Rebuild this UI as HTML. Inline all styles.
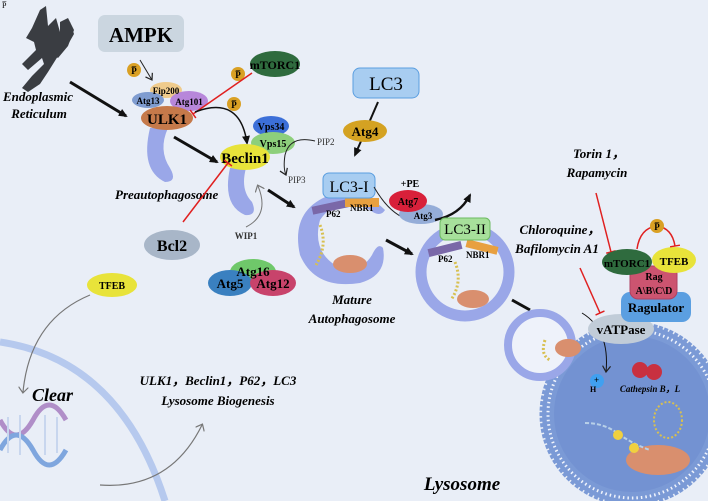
<!DOCTYPE html>
<html><head><meta charset="utf-8"><style>
html,body{margin:0;padding:0;background:#e9eef7;}
svg{display:block;font-family:"Liberation Serif",serif;}
.b{font-weight:bold}
.i{font-style:italic;font-weight:bold}
</style></head><body>
<svg width="708" height="501" viewBox="0 0 708 501" xmlns="http://www.w3.org/2000/svg">
<defs>
<marker id="ak" markerUnits="userSpaceOnUse" markerWidth="10" markerHeight="10" refX="7" refY="5" orient="auto"><path d="M0,1 L9,5 L0,9 z" fill="#111"/></marker>
<marker id="ag" markerUnits="userSpaceOnUse" markerWidth="10" markerHeight="10" refX="5" refY="5" orient="auto"><path d="M0,0 L6,5 L0,10" fill="none" stroke="#777" stroke-width="1.2"/></marker>
<marker id="at" markerUnits="userSpaceOnUse" markerWidth="10" markerHeight="10" refX="8" refY="5" orient="auto"><path d="M2,1 L8,5 L2,9" fill="none" stroke="#222" stroke-width="1.2"/></marker>
<marker id="rb" markerUnits="userSpaceOnUse" markerWidth="4" markerHeight="10" refX="2" refY="5" orient="auto"><path d="M2,0 L2,10" stroke="#e02020" stroke-width="1.5"/></marker>
</defs>
<rect width="708" height="501" fill="#e9eef7"/>
<text x="2" y="8" font-size="8">P̅</text>
<!-- nucleus -->
<path d="M0,342 Q120,360 165,501" fill="none" stroke="#b6c9ee" stroke-width="7"/>
<!-- ER -->
<g fill="#3a3d42">
<path d="M40,10 l6,-4 l2,20 l8,-8 l4,14 l10,-10 l4,12 l-8,14 l-8,8 l-10,16 l-8,12 l-12,8 l-6,-4 l10,-12 l12,-12 l-2,-6 l-14,12 l-6,-6 l14,-14 l-2,-8 l-8,-4 l6,-10 z"/>
<path d="M60,22 l8,-4 l6,12 l-6,16 l-10,12 l-6,-4 l8,-12 z"/>
</g>
<text class="i" x="38" y="101" font-size="13" text-anchor="middle">Endoplasmic</text>
<text class="i" x="39" y="118" font-size="13" text-anchor="middle">Reticulum</text>
<line x1="70" y1="82" x2="126" y2="116" stroke="#111" stroke-width="3" marker-end="url(#ak)"/>
<!-- AMPK -->
<rect x="98" y="15" width="86" height="37" rx="7" fill="#cbd6e0"/>
<text class="b" x="141" y="42" font-size="21" text-anchor="middle">AMPK</text>
<line x1="140" y1="60" x2="152" y2="80" stroke="#222" stroke-width="1" marker-end="url(#at)"/>
<g font-size="9" class="b" text-anchor="middle">
<circle cx="134" cy="70" r="7" fill="#d9a024"/><text x="134" y="74">P̅</text>
<circle cx="238" cy="74" r="7" fill="#d9a024"/><text x="238" y="78">P̅</text>
<circle cx="234" cy="104" r="7" fill="#d9a024"/><text x="234" y="108">P̅</text>
</g>
<!-- preautophagosome crescents -->
<path d="M150,128 Q140,170 165,182 Q178,182 170,168 Q158,150 168,128 z" fill="#9aa7e8"/>
<path d="M230,168 Q222,205 245,215 Q258,216 252,202 Q240,190 246,168 z" fill="#9aa7e8"/>
<ellipse cx="166" cy="90" rx="16" ry="8" fill="#efcb8c"/>
<ellipse cx="148" cy="100" rx="16" ry="8" fill="#7f9cd0"/>
<ellipse cx="189" cy="101" rx="19" ry="10" fill="#b787da"/>
<ellipse cx="167" cy="118" rx="26" ry="12" fill="#c5794a"/>
<g class="b" font-size="9" text-anchor="middle"><text x="166" y="94">Fip200</text><text x="148" y="104">Atg13</text><text x="189" y="105">Atg101</text></g>
<text class="b" x="167" y="124" font-size="15" text-anchor="middle">ULK1</text>
<ellipse cx="275" cy="64" rx="25" ry="13" fill="#2f6b3e"/>
<text class="b" x="275" y="69" font-size="12" text-anchor="middle">mTORC1</text>
<line x1="252" y1="73" x2="193" y2="114" stroke="#e02020" stroke-width="1.5" marker-end="url(#rb)"/>
<path d="M195,112 Q240,95 247,143" fill="none" stroke="#111" stroke-width="1.5" marker-end="url(#ak)"/>
<line x1="174" y1="137" x2="217" y2="162" stroke="#111" stroke-width="3" marker-end="url(#ak)"/>
<text class="i" x="115" y="199" font-size="13">Preautophagosome</text>
<!-- Beclin complex -->
<ellipse cx="271" cy="126" rx="18" ry="10" fill="#3c6fd8"/>
<ellipse cx="273" cy="143" rx="22" ry="11" fill="#8dcf7b"/>
<ellipse cx="245" cy="157" rx="25" ry="13" fill="#e8e33a"/>
<g class="b" font-size="10" text-anchor="middle"><text x="271" y="130">Vps34</text><text x="273" y="147">Vps15</text></g>
<text class="b" x="245" y="163" font-size="15" text-anchor="middle">Beclin1</text>
<path d="M315,141 Q290,135 285,155 Q283,168 286,175" fill="none" stroke="#222" stroke-width="1" marker-end="url(#at)"/>
<text x="317" y="145" font-size="9" fill="#333">PIP2</text>
<text x="288" y="183" font-size="9" fill="#333">PIP3</text>
<line x1="183" y1="222" x2="228" y2="163" stroke="#e02020" stroke-width="1.5" marker-end="url(#rb)"/>
<ellipse cx="172" cy="245" rx="28" ry="15" fill="#a8b6c8"/>
<text class="b" x="172" y="251" font-size="16" text-anchor="middle">Bcl2</text>
<path d="M246,227 Q270,215 258,186" fill="none" stroke="#777" stroke-width="1" marker-end="url(#ag)"/>
<text class="b" x="246" y="239" font-size="9" text-anchor="middle" fill="#333">WIP1</text>
<line x1="268" y1="190" x2="294" y2="207" stroke="#111" stroke-width="3" marker-end="url(#ak)"/>
<ellipse cx="253" cy="272" rx="23" ry="13" fill="#6fc86a"/>
<ellipse cx="230" cy="283" rx="22" ry="13" fill="#3a80c0"/>
<ellipse cx="273" cy="283" rx="23" ry="13" fill="#c8436b"/>
<g class="b" font-size="13" text-anchor="middle"><text x="253" y="276">Atg16</text><text x="230" y="288">Atg5</text><text x="273" y="288">Atg12</text></g>
<!-- LC3 -->
<rect x="353" y="68" width="66" height="30" rx="7" fill="#a8cdf1" stroke="#5a9ee0"/>
<text x="386" y="90" font-size="19" text-anchor="middle">LC3</text>
<line x1="378" y1="102" x2="355" y2="155" stroke="#111" stroke-width="2" marker-end="url(#ak)"/>
<ellipse cx="365" cy="131" rx="22" ry="11" fill="#d4a222"/>
<text class="b" x="365" y="136" font-size="13" text-anchor="middle">Atg4</text>
<!-- mature autophagosome -->
<path d="M330,195 Q290,210 300,255 Q315,290 360,283 Q388,275 383,248 Q378,242 372,255 Q360,275 335,265 Q312,250 320,220 Q330,205 350,200 z" fill="#9aa7e8"/>
<path d="M340,198 Q365,190 385,210 Q380,218 370,210 z" fill="#9aa7e8"/>
<rect x="312" y="203" width="38" height="8" fill="#7a68a8" transform="rotate(-12 330 207)"/>
<rect x="345" y="198" width="34" height="9" fill="#e8a040"/>
<text class="b" x="326" y="217" font-size="9">P62</text>
<text class="b" x="350" y="211" font-size="9">NBR1</text>
<ellipse cx="350" cy="264" rx="17" ry="9" fill="#d98f6e"/>
<path d="M320,225 q8,20 -4,40" fill="none" stroke="#d8c050" stroke-width="3" stroke-dasharray="2 2"/>
<rect x="323" y="173" width="52" height="25" rx="6" fill="#a8cdf1" stroke="#5a9ee0"/>
<text x="349" y="192" font-size="16" text-anchor="middle">LC3-I</text>
<text class="i" x="352" y="304" font-size="13" text-anchor="middle">Mature</text>
<text class="i" x="352" y="323" font-size="13" text-anchor="middle">Autophagosome</text>
<path d="M374,187 Q390,215 410,220" fill="none" stroke="#222" stroke-width="1"/>
<ellipse cx="421" cy="214" rx="22" ry="10" fill="#95add8"/>
<ellipse cx="408" cy="201" rx="19" ry="11" fill="#d8203a"/>
<text class="b" x="408" y="205" font-size="10" text-anchor="middle">Atg7</text>
<text class="b" x="423" y="219" font-size="9" text-anchor="middle">Atg3</text>
<text class="b" x="410" y="187" font-size="10" text-anchor="middle">+PE</text>
<path d="M435,220 Q460,215 470,195" fill="none" stroke="#111" stroke-width="2.5" marker-end="url(#ak)"/>
<line x1="386" y1="240" x2="412" y2="254" stroke="#111" stroke-width="3" marker-end="url(#ak)"/>
<!-- second autophagosome -->
<circle cx="465" cy="272" r="44" fill="none" stroke="#9aa7e8" stroke-width="11"/>
<rect x="428" y="245" width="34" height="8" fill="#7a68a8" transform="rotate(-14 445 249)"/>
<rect x="466" y="243" width="32" height="8" fill="#e8a040" transform="rotate(14 482 247)"/>
<text class="b" x="438" y="262" font-size="9">P62</text>
<text class="b" x="466" y="258" font-size="9">NBR1</text>
<ellipse cx="473" cy="299" rx="16" ry="9" fill="#d98f6e"/>
<path d="M455,262 q8,20 -4,38" fill="none" stroke="#d8c050" stroke-width="3" stroke-dasharray="2 2"/>
<rect x="440" y="218" width="50" height="22" rx="5" fill="#a7e09b" stroke="#6cba60"/>
<text x="465" y="234" font-size="15" text-anchor="middle">LC3-II</text>
<line x1="512" y1="300" x2="530" y2="310" stroke="#111" stroke-width="3"/>
<!-- text right -->
<text class="i" x="599" y="158" font-size="13" text-anchor="middle">Torin 1，</text>
<text class="i" x="597" y="177" font-size="13" text-anchor="middle">Rapamycin</text>
<text class="i" x="560" y="234" font-size="13" text-anchor="middle">Chloroquine，</text>
<text class="i" x="557" y="253" font-size="13" text-anchor="middle">Bafilomycin A1</text>
<line x1="596" y1="193" x2="611" y2="252" stroke="#e02020" stroke-width="1.5" marker-end="url(#rb)"/>
<line x1="580" y1="268" x2="600" y2="313" stroke="#e02020" stroke-width="1.5" marker-end="url(#rb)"/>
<!-- lysosome -->
<circle cx="632" cy="414" r="90" fill="#7b9ad6"/>
<circle cx="632" cy="414" r="84" fill="none" stroke="#f0f4fc" stroke-width="3" stroke-dasharray="1.5 3"/>
<circle cx="632" cy="414" r="90" fill="none" stroke="#7b9ad6" stroke-width="5" stroke-dasharray="4 1.5"/>
<circle cx="632" cy="414" r="78" fill="#7392d2"/>
<circle cx="540" cy="345" r="32" fill="#eef2fa" stroke="#9aa7e8" stroke-width="8"/>
<ellipse cx="568" cy="348" rx="13" ry="9" fill="#d98f6e"/>
<path d="M545,340 q-5,15 5,20" fill="none" stroke="#d8c050" stroke-width="3" stroke-dasharray="2 2"/>
<circle cx="640" cy="370" r="8" fill="#c83040"/><circle cx="654" cy="372" r="8" fill="#c83040"/>
<text class="i" x="650" y="392" font-size="9" text-anchor="middle">Cathepsin B，L</text>
<circle cx="597" cy="381" r="7" fill="#40a0f0"/>
<text class="b" x="590" y="392" font-size="8">H</text><text class="b" x="594" y="383" font-size="9">+</text>
<path d="M582,313 Q610,330 606,372" fill="none" stroke="#111" stroke-width="1" marker-end="url(#at)"/>
<ellipse cx="658" cy="460" rx="32" ry="15" fill="#d98f6e"/>
<path d="M585,423 q20,0 35,12 q15,10 30,15" fill="none" stroke="#b8d0e8" stroke-width="2" stroke-dasharray="4 2"/>
<circle cx="618" cy="435" r="5" fill="#f0d040"/><circle cx="634" cy="448" r="5" fill="#f0d040"/>
<ellipse cx="668" cy="420" rx="14" ry="18" fill="none" stroke="#d8c050" stroke-width="2" stroke-dasharray="2 2"/>
<text class="i" x="462" y="490" font-size="19" text-anchor="middle">Lysosome</text>
<ellipse cx="621" cy="329" rx="33" ry="15" fill="#c1ccd8"/>
<text class="b" x="621" y="334" font-size="13" text-anchor="middle">vATPase</text>
<!-- mTORC1 complex -->
<rect x="621" y="292" width="70" height="30" rx="9" fill="#5b9fe1"/>
<text class="b" x="656" y="312" font-size="13" text-anchor="middle">Ragulator</text>
<rect x="630" y="266" width="47" height="33" rx="8" fill="#cc5470" stroke="#b04060"/>
<text class="b" x="654" y="280" font-size="10" text-anchor="middle">Rag</text>
<text class="b" x="654" y="294" font-size="10" text-anchor="middle">A\B\C\D</text>
<ellipse cx="627" cy="262" rx="25" ry="13" fill="#2f6b3e"/>
<text class="b" x="627" y="267" font-size="11" text-anchor="middle">mTORC1</text>
<ellipse cx="674" cy="260" rx="22" ry="13" fill="#e8e33a"/>
<text class="b" x="674" y="265" font-size="11" text-anchor="middle">TFEB</text>
<path d="M637,249 Q640,228 657,226 Q672,228 675,246" fill="none" stroke="#e02020" stroke-width="1.5" marker-end="url(#rb)"/>
<circle cx="657" cy="226" r="7" fill="#d9a024"/><text class="b" x="657" y="230" font-size="9" text-anchor="middle">P̅</text>
<!-- TFEB left -->
<ellipse cx="112" cy="285" rx="25" ry="12" fill="#e8e33a"/>
<text class="b" x="112" y="289" font-size="10" text-anchor="middle">TFEB</text>
<path d="M90,295 Q30,320 23,392" fill="none" stroke="#777" stroke-width="1.2" marker-end="url(#ag)"/>
<text class="i" x="32" y="401" font-size="18">Clear</text>
<g stroke-width="5">
<path d="M0,420 q16,30 33,0 q16,-30 33,0" fill="none" stroke="#b08ec8"/>
<path d="M0,450 q16,-30 33,0 q16,30 33,0" fill="none" stroke="#7fa6de"/>
</g>
<g stroke="#c8d6ee" stroke-width="2"><line x1="8" y1="417" x2="8" y2="453"/><line x1="20" y1="415" x2="20" y2="455"/><line x1="45" y1="415" x2="45" y2="455"/><line x1="57" y1="417" x2="57" y2="453"/></g>
<path d="M100,485 Q170,490 202,425" fill="none" stroke="#777" stroke-width="1.2" marker-end="url(#ag)"/>
<text class="i" x="218" y="385" font-size="13" text-anchor="middle">ULK1，Beclin1，P62，LC3</text>
<text class="i" x="218" y="405" font-size="13" text-anchor="middle">Lysosome Biogenesis</text>
</svg>
</body></html>
